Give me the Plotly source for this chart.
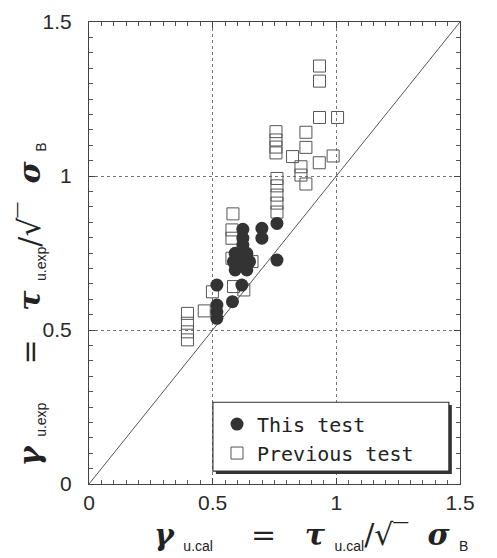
import plotly.graph_objects as go

# This test (filled circles)
this_x = [0.760, 0.622, 0.622, 0.622, 0.699, 0.699, 0.760, 0.591, 0.638, 0.584,
          0.618, 0.649, 0.591, 0.638, 0.517, 0.618, 0.580, 0.517, 0.517, 0.517]
this_y = [0.846, 0.827, 0.798, 0.776, 0.830, 0.798, 0.727, 0.749, 0.749, 0.722,
          0.722, 0.722, 0.695, 0.695, 0.646, 0.646, 0.592, 0.581, 0.559, 0.538]

# Previous test (open squares)
prev_x = [0.932, 0.932, 0.932, 1.005, 0.756, 0.756, 0.756, 0.756, 0.877, 0.877,
          0.823, 0.931, 0.987, 0.857, 0.857, 0.877, 0.760, 0.760, 0.760, 0.760,
          0.760, 0.582, 0.578, 0.578, 0.578, 0.659, 0.499, 0.584, 0.626, 0.466,
          0.398, 0.398, 0.398, 0.398]
prev_y = [1.357, 1.308, 1.190, 1.190, 1.144, 1.117, 1.094, 1.075, 1.142, 1.093,
          1.063, 1.043, 1.065, 1.030, 1.003, 0.974, 0.992, 0.968, 0.938, 0.912,
          0.883, 0.877, 0.825, 0.798, 0.733, 0.722, 0.624, 0.641, 0.630, 0.562,
          0.554, 0.522, 0.494, 0.468]

diag = [0, 1.5]
tick_vals = [0, 0.5, 1, 1.5]
tick_text = ["0", "0.5", "1", "1.5"]

fig = go.Figure()
fig.add_trace(go.Scatter(x=diag, y=diag, mode="lines",
                         line=dict(color="#555", width=1), showlegend=False,
                         hoverinfo="skip"))
fig.add_trace(go.Scatter(x=prev_x, y=prev_y, mode="markers", name="Previous test",
                         marker=dict(symbol="square-open", size=12,
                                     color="#555", line=dict(width=1, color="#555"))))
fig.add_trace(go.Scatter(x=this_x, y=this_y, mode="markers", name="This test",
                         marker=dict(symbol="circle", size=13, color="#333",
                                     line=dict(width=0))))

NB = "\u00a0"
def sub(t):
    return "<sub><span style='font-size:14px;font-family:Liberation Sans'>" + t + "</span></sub>"

def title_text(s, gap1, gap2):
    return ("<b><i>γ</i></b>" + NB + sub(s) + NB * gap1 + "=" + NB * gap2
            + "<b><i>τ</i></b>" + NB + sub(s) + "/√‾" + NB * 2
            + "<b><i>σ</i></b>" + NB + sub("B"))

xtitle = title_text("u.cal", 4, 3)
ytitle = title_text("u.exp", 4, 3)

axis_common = dict(
    range=[0, 1.5], tickvals=tick_vals, ticktext=tick_text, automargin=False,
    showgrid=True, gridcolor="#777", griddash="dot", gridwidth=1,
    zeroline=False, showline=True, linecolor="#444", linewidth=1,
    mirror="allticks", ticks="inside", ticklen=6, tickcolor="#444",
    tickfont=dict(family="Liberation Sans, Arial", size=21, color="#2a2a2a"),
    minor=dict(dtick=0.05, ticks="inside", ticklen=4, tickcolor="#555", showgrid=False),
)

fig.update_xaxes(**axis_common)
fig.update_yaxes(**axis_common, ticklabelstandoff=12)

title_font = dict(family="DejaVu Serif", size=30, color="#222")
fig.add_annotation(text=xtitle, xref="paper", yref="paper", x=0.598, y=-0.112,
                   xanchor="center", yanchor="middle", showarrow=False, font=title_font)
fig.add_annotation(text=ytitle, xref="paper", yref="paper", x=-0.158, y=0.390,
                   xanchor="center", yanchor="middle", showarrow=False, textangle=-90,
                   font=title_font)

# legend box with shadow
fig.add_shape(type="rect", xref="paper", yref="paper",
              x0=0.342, x1=0.978, y0=0.0216, y1=0.171,
              fillcolor="#333", line=dict(width=0), layer="above")
fig.add_shape(type="rect", xref="paper", yref="paper",
              x0=0.334, x1=0.970, y0=0.028, y1=0.177,
              fillcolor="white", line=dict(color="#333", width=1.2), layer="above")

fig.update_layout(
    width=497, height=558,
    margin=dict(l=81, r=45, t=14, b=82),
    plot_bgcolor="white", paper_bgcolor="white",
    showlegend=True,
    legend=dict(x=0.345, y=0.172, xanchor="left", yanchor="top",
                bgcolor="rgba(0,0,0,0)", borderwidth=0, traceorder="reversed",
                font=dict(family="DejaVu Sans Mono", size=20, color="#222"),
                itemwidth=30, tracegroupgap=0),
)

fig.write_html("out.html")
